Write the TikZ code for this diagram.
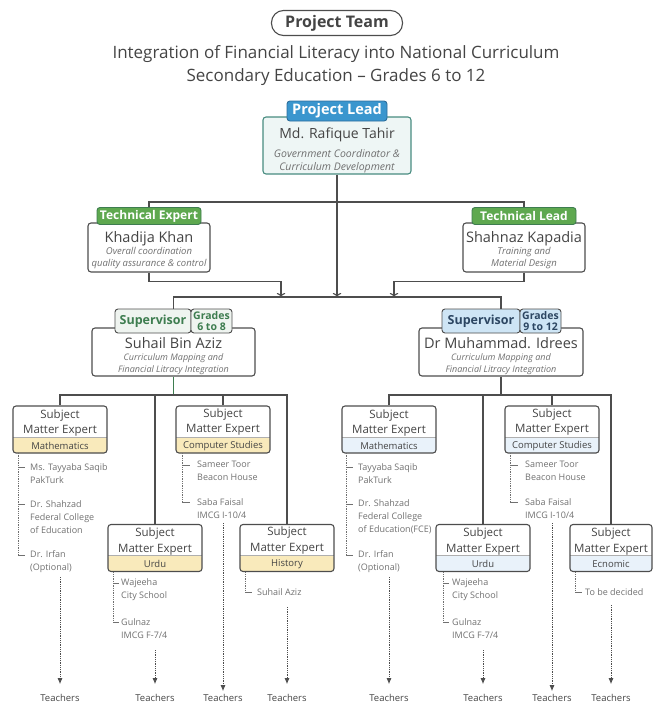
\documentclass[tikz,border=0pt]{standalone}
\usepackage{fontspec}
\setmainfont{Open Sans}
\usetikzlibrary{arrows.meta}

\begin{document}
\begin{tikzpicture}[x=1pt, y=-1pt]

  \definecolor{my_gray_dark}{RGB}{77,77,77}
  \definecolor{my_text}{RGB}{68,68,68}
  \definecolor{my_role}{RGB}{112,112,112}
  \definecolor{my_teal}{RGB}{72,140,128}
  \definecolor{my_teal_light}{RGB}{238,246,245}
  \definecolor{my_blue}{RGB}{58,150,206}
  \definecolor{my_blue_dark}{RGB}{44,110,155}
  \definecolor{my_blue_light}{RGB}{206,229,245}
  \definecolor{my_blue_pale}{RGB}{233,242,250}
  \definecolor{my_navy}{RGB}{44,70,98}
  \definecolor{my_green}{RGB}{94,168,79}
  \definecolor{my_green_dark}{RGB}{62,125,80}
  \definecolor{my_green_pale}{RGB}{239,244,240}
  \definecolor{my_yellow}{RGB}{249,234,187}

  \useasboundingbox (0,0) rectangle (653,707);

  \tikzstyle{box} = [rectangle, draw=my_gray_dark, fill=white, rounded corners=3pt, line width=1.1pt, inner sep=0pt]
  \tikzstyle{tab} = [rectangle, rounded corners=3pt, line width=0.9pt, inner sep=0pt, align=center]
  \tikzstyle{nametext} = [font=\fontsize{14.5}{17}\selectfont, text=my_text, inner sep=0pt]
  \tikzstyle{role} = [font=\fontsize{9.5}{12.5}\selectfont\itshape, text=my_role, align=center, inner sep=0pt]
  \tikzstyle{sme} = [box, minimum width=94pt, minimum height=47pt, align=center, font=\fontsize{11.5}{15.5}\selectfont, text=my_text]
  \tikzstyle{member} = [font=\fontsize{9}{13}\selectfont, text=my_role, align=left, anchor=west, inner sep=0pt]
  \tikzstyle{member line} = [draw=my_role, dash pattern=on 1.3pt off 1pt, line width=0.7pt]
  \tikzstyle{member tick} = [draw=my_role, line width=0.8pt]
  \tikzstyle{teachers} = [font=\fontsize{9.5}{12}\selectfont, text=my_text, inner sep=2pt]
  \tikzstyle{teach line} = [draw=my_gray_dark, dash pattern=on 0.8pt off 1pt, line width=0.8pt, -{Latex[length=6pt,width=5pt]}]
  \tikzstyle{conn} = [draw=my_gray_dark, line width=1.1pt]
  \tikzset{band/.style={path picture={
    \fill[#1] (path picture bounding box.south west) rectangle ([yshift=16pt]path picture bounding box.south east);
    \draw[my_gray_dark!45, line width=0.6pt] ([yshift=16pt]path picture bounding box.south west) -- ([yshift=16pt]path picture bounding box.south east);}}}

  % heading
  \node [draw=my_gray_dark, line width=1.1pt, rounded corners=12pt, minimum width=131pt, minimum height=25pt, font=\fontsize{16}{19}\selectfont\bfseries, text=my_text] (team) at (337,23) {Project Team};
  \node [align=center, font=\fontsize{17}{23}\selectfont, text=my_text] (subtitle) at (336,65.5) {Integration of Financial Literacy into National Curriculum\\Secondary Education -- Grades 6 to 12};

  % project lead
  \node [box, draw=my_teal, fill=my_teal_light, minimum width=148pt, minimum height=57pt] (pl) at (337,145.5) {};
  \node [tab, fill=my_blue, draw=my_blue_dark, text=white, minimum width=100pt, minimum height=20pt, font=\fontsize{14.5}{17}\selectfont\bfseries] (plTab) at (337,111) {Project Lead};
  \node [nametext, font=\fontsize{14}{17}\selectfont] (plName) at (337,135) {Md. Rafique Tahir};
  \node [role, font=\fontsize{10.5}{13}\selectfont\itshape] (plRole) at (337,161.5) {Government Coordinator \&\\Curriculum Development};

  % technical expert / lead
  \node [box, minimum width=122pt, minimum height=49pt] (te) at (149,247.5) {};
  \node [tab, fill=my_green, draw=my_green_dark, text=white, minimum width=104pt, minimum height=17pt, font=\fontsize{12}{14}\selectfont\bfseries] (teTab) at (149,216) {Technical Expert};
  \node [nametext] (teName) at (149,238.5) {Khadija Khan};
  \node [role] (teRole) at (149,258) {Overall coordination\\quality assurance \& control};

  \node [box, minimum width=122pt, minimum height=49pt] (tl) at (524,247.5) {};
  \node [tab, fill=my_green, draw=my_green_dark, text=white, minimum width=104pt, minimum height=17pt, font=\fontsize{12}{14}\selectfont\bfseries] (tlTab) at (524,216) {Technical Lead};
  \node [nametext] (tlName) at (524,238.5) {Shahnaz Kapadia};
  \node [role] (tlRole) at (524,258) {Training and\\Material Design};

  % supervisors
  \node [box, minimum width=163pt, minimum height=48pt] (sl) at (173.5,352) {};
  \node [tab, fill=my_green_pale, draw=my_gray_dark, text=my_green_dark, minimum width=76pt, minimum height=24pt, font=\fontsize{12.5}{15}\selectfont\bfseries] (slTab) at (153,321) {Supervisor};
  \node [tab, fill=my_green_pale, draw=my_gray_dark, text=my_green_dark, minimum width=41pt, minimum height=24pt, font=\fontsize{10.5}{11.5}\selectfont\bfseries] (slGrades) at (211.5,321) {Grades\\6 to 8};
  \node [nametext] (slName) at (173.5,343) {Suhail Bin Aziz};
  \node [role, font=\fontsize{9}{12}\selectfont\itshape] (slRole) at (173.5,364) {Curriculum Mapping and\\Financial Litracy Integration};

  \node [box, minimum width=164pt, minimum height=48pt] (sr) at (501,352) {};
  \node [tab, fill=my_blue_light, draw=my_gray_dark, text=my_navy, minimum width=78pt, minimum height=24pt, font=\fontsize{12.5}{15}\selectfont\bfseries] (srTab) at (481,321) {Supervisor};
  \node [tab, fill=my_blue_light, draw=my_gray_dark, text=my_navy, minimum width=41pt, minimum height=24pt, font=\fontsize{10.5}{11.5}\selectfont\bfseries] (srGrades) at (540.5,321) {Grades\\9 to 12};
  \node [nametext] (srName) at (501,343) {Dr Muhammad. Idrees};
  \node [role, font=\fontsize{9}{12}\selectfont\itshape] (srRole) at (501,364) {Curriculum Mapping and\\Financial Litracy Integration};

  % subject matter experts
  \node [sme, band=my_yellow] (mathL) at (60,429.5) {Subject\\Matter Expert\\{\fontsize{9.5}{15.5}\selectfont Mathematics}};
  \node [sme, band=my_yellow] (csL) at (223,429.5) {Subject\\Matter Expert\\{\fontsize{9.5}{15.5}\selectfont Computer Studies}};
  \node [sme, band=my_yellow] (urduL) at (155,548) {Subject\\Matter Expert\\{\fontsize{9.5}{15.5}\selectfont Urdu}};
  \node [sme, band=my_yellow] (histL) at (287,548) {Subject\\Matter Expert\\{\fontsize{9.5}{15.5}\selectfont History}};

  \node [sme, band=my_blue_pale] (mathR) at (389,429.5) {Subject\\Matter Expert\\{\fontsize{9.5}{15.5}\selectfont Mathematics}};
  \node [sme, band=my_blue_pale] (csR) at (552,429.5) {Subject\\Matter Expert\\{\fontsize{9.5}{15.5}\selectfont Computer Studies}};
  \node [sme, band=my_blue_pale] (urduR) at (483,548) {Subject\\Matter Expert\\{\fontsize{9.5}{15.5}\selectfont Urdu}};
  \node [sme, band=my_blue_pale, minimum width=82pt] (econR) at (611,548) {Subject\\Matter Expert\\{\fontsize{9.5}{15.5}\selectfont Ecnomic}};

  % connectors
  \coordinate (busTop) at (337,202);
  \coordinate (supBus) at (337,297);
  \coordinate (teIn) at (281,297);
  \coordinate (tlIn) at (394,297);
  \path [conn] (teTab.north) |- (busTop) -| (tlTab.north);
  \path [conn, ->] (pl.south) -- (supBus);
  \path [conn, ->] (te.south) -- ++(0,9) -| (teIn);
  \path [conn, ->] (tl.south) -- ++(0,9) -| (tlIn);
  \path [conn] (sl.north |- slTab.north) |- (supBus) -| (sr.north |- srTab.north);

  \coordinate (smeBusL) at (173.5,395);
  \coordinate (smeBusR) at (501,395);
  \path [conn, draw=my_green_dark] (sl.south) -- (smeBusL);
  \path [conn] (mathL.north) |- (smeBusL) -| (histL.north);
  \path [conn] (csL.north) -- (csL.north |- smeBusL);
  \path [conn] (urduL.north) -- (urduL.north |- smeBusL);
  \path [conn] (sr.south) -- (smeBusR);
  \path [conn] (mathR.north) |- (smeBusR) -| (econR.north);
  \path [conn] (csR.north) -- (csR.north |- smeBusR);
  \path [conn] (urduR.north) -- (urduR.north |- smeBusR);

  % member lists, left
  \path [member line] (18,453) -- (18,555);
  \path [member tick] (18,467) -- ++(7,0) (18,504) -- ++(7,0) (18,555) -- ++(7,0);
  \node [member] (mathLa) at (30,473.5) {Ms. Tayyaba Saqib\\PakTurk};
  \node [member] (mathLb) at (30,517) {Dr. Shahzad\\Federal College\\of Education};
  \node [member] (mathLc) at (30,561.5) {Dr. Irfan\\(Optional)};

  \path [member line] (182,453) -- (182,502);
  \path [member tick] (182,465) -- ++(8,0) (182,502) -- ++(8,0);
  \node [member] (csLa) at (197,471) {Sameer Toor\\Beacon House};
  \node [member] (csLb) at (197,508.5) {Saba Faisal\\IMCG I-10/4};

  \path [member line] (113,571.5) -- (113,622);
  \path [member tick] (113,583) -- ++(6,0) (113,622) -- ++(6,0);
  \node [member] (urduLa) at (121,590) {Wajeeha\\City School};
  \node [member] (urduLb) at (121,629) {Gulnaz\\IMCG F-7/4};

  \path [member line] (245,571.5) -- (245,592);
  \path [member tick] (245,592) -- ++(7,0);
  \node [member] (histLa) at (257,592) {Suhail Aziz};

  % member lists, right
  \path [member line] (346,453) -- (346,555);
  \path [member tick] (346,467) -- ++(7,0) (346,504) -- ++(7,0) (346,555) -- ++(7,0);
  \node [member] (mathRa) at (358,473.5) {Tayyaba Saqib\\PakTurk};
  \node [member] (mathRb) at (358,517) {Dr. Shahzad\\Federal College\\of Education(FCE)};
  \node [member] (mathRc) at (358,561.5) {Dr. Irfan\\(Optional)};

  \path [member line] (510,453) -- (510,502);
  \path [member tick] (510,465) -- ++(8,0) (510,502) -- ++(8,0);
  \node [member] (csRa) at (525,471) {Sameer Toor\\Beacon House};
  \node [member] (csRb) at (525,508.5) {Saba Faisal\\IMCG I-10/4};

  \path [member line] (443,571.5) -- (443,622);
  \path [member tick] (443,583) -- ++(6,0) (443,622) -- ++(6,0);
  \node [member] (urduRa) at (452,590) {Wajeeha\\City School};
  \node [member] (urduRb) at (452,629) {Gulnaz\\IMCG F-7/4};

  \path [member line] (575,571.5) -- (575,592);
  \path [member tick] (575,592) -- ++(7,0);
  \node [member] (econRa) at (585,592) {To be decided};

  % teachers
  \node [teachers] (teachMathL) at (60,698) {Teachers};
  \node [teachers] (teachUrduL) at (155,698) {Teachers};
  \node [teachers] (teachCsL) at (223,698) {Teachers};
  \node [teachers] (teachHistL) at (287,698) {Teachers};
  \node [teachers] (teachMathR) at (389,698) {Teachers};
  \node [teachers] (teachUrduR) at (483,698) {Teachers};
  \node [teachers] (teachCsR) at (552,698) {Teachers};
  \node [teachers] (teachEconR) at (611,698) {Teachers};

  \coordinate (dotMathL) at (60,577);
  \coordinate (dotUrduL) at (155,650);
  \coordinate (dotCsL) at (223,523);
  \coordinate (dotHistL) at (287,607);
  \coordinate (dotMathR) at (389,577);
  \coordinate (dotUrduR) at (483,650);
  \coordinate (dotCsR) at (552,523);
  \coordinate (dotEconR) at (611,605);

  \path [teach line, shorten >=8pt] (dotMathL) -- (teachMathL);
  \path [teach line, shorten >=8pt] (dotUrduL) -- (teachUrduL);
  \path [teach line, shorten >=1pt] (dotCsL) -- (teachCsL);
  \path [teach line, shorten >=8pt] (dotHistL) -- (teachHistL);
  \path [teach line, shorten >=8pt] (dotMathR) -- (teachMathR);
  \path [teach line, shorten >=8pt] (dotUrduR) -- (teachUrduR);
  \path [teach line, shorten >=1pt] (dotCsR) -- (teachCsR);
  \path [teach line, shorten >=8pt] (dotEconR) -- (teachEconR);

\end{tikzpicture}
\end{document}
